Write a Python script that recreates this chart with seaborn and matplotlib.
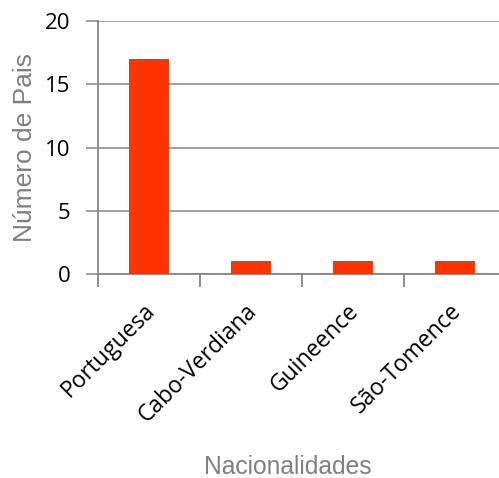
import matplotlib
matplotlib.use("Agg")
import matplotlib.pyplot as plt
import matplotlib.transforms as mtransforms
import seaborn as sns
import pandas as pd

nacionalidades = ["Portuguesa", "Cabo-Verdiana", "Guineence", "São-Tomence"]
num_pais = [17, 1, 1, 1]
y_ticks = [0, 5, 10, 15, 20]

df = pd.DataFrame({"Nacionalidades": nacionalidades, "Número de Pais": num_pais})

sns.set_theme(style="white")
plt.rcParams["font.family"] = ["Open Sans", "DejaVu Sans"]

W, H = 499, 478
fig = plt.figure(figsize=(W / 100, H / 100), dpi=100)
left, right, top, bottom = 98, 506, 21, 274
ax = fig.add_axes([left / W, (H - bottom) / H, (right - left) / W, (bottom - top) / H])

sns.barplot(data=df, x="Nacionalidades", y="Número de Pais", color="#FF3300",
            width=0.39, saturation=1, linewidth=0, ax=ax, zorder=3)

grid_c = "#868686"
ax.set_ylim(0, 20)
ax.set_xlim(-0.5, len(nacionalidades) - 0.5)
ax.set_yticks(y_ticks)
ax.yaxis.grid(True, color=grid_c, linewidth=1.1, zorder=0)
for s in ["top", "right"]:
    ax.spines[s].set_visible(False)
for s in ["left", "bottom"]:
    ax.spines[s].set_color(grid_c)
    ax.spines[s].set_linewidth(1.3)

ax.tick_params(axis="y", direction="out", length=9, width=1.1, color=grid_c,
               labelsize=16, pad=11, left=True, labelcolor="black")
# category boundary ticks on the x axis
ax.set_xticks([i - 0.5 for i in range(len(nacionalidades))], minor=True)
ax.tick_params(axis="x", which="minor", direction="out", length=9, width=1.3,
               color=grid_c, bottom=True)
ax.tick_params(axis="x", which="major", length=0, labelsize=16.5, pad=18,
               labelcolor="black")
shift = mtransforms.ScaledTranslation(-6 / 100, 0, fig.dpi_scale_trans)
for lbl in ax.get_xticklabels():
    lbl.set_rotation(45)
    lbl.set_ha("right")
    lbl.set_rotation_mode("anchor")
    lbl.set_transform(lbl.get_transform() + shift)

ax.set_xlabel("Nacionalidades", fontsize=17.7, color="#7f7f7f",
              family=["Liberation Sans", "DejaVu Sans"], labelpad=0)
ax.xaxis.set_label_coords((288 - left) / (right - left), -(467 - bottom) / (bottom - top),
                          transform=ax.transAxes)
ax.xaxis.label.set_va("center")
ax.set_ylabel("Número de Pais", fontsize=19, color="#7f7f7f",
              family=["Liberation Sans", "DejaVu Sans"])
ax.yaxis.set_label_coords(-(98 - 25) / (right - left), (bottom - 147) / (bottom - top),
                          transform=ax.transAxes)
ax.yaxis.label.set_va("center")

fig.savefig("out.png", dpi=100, facecolor="white")
